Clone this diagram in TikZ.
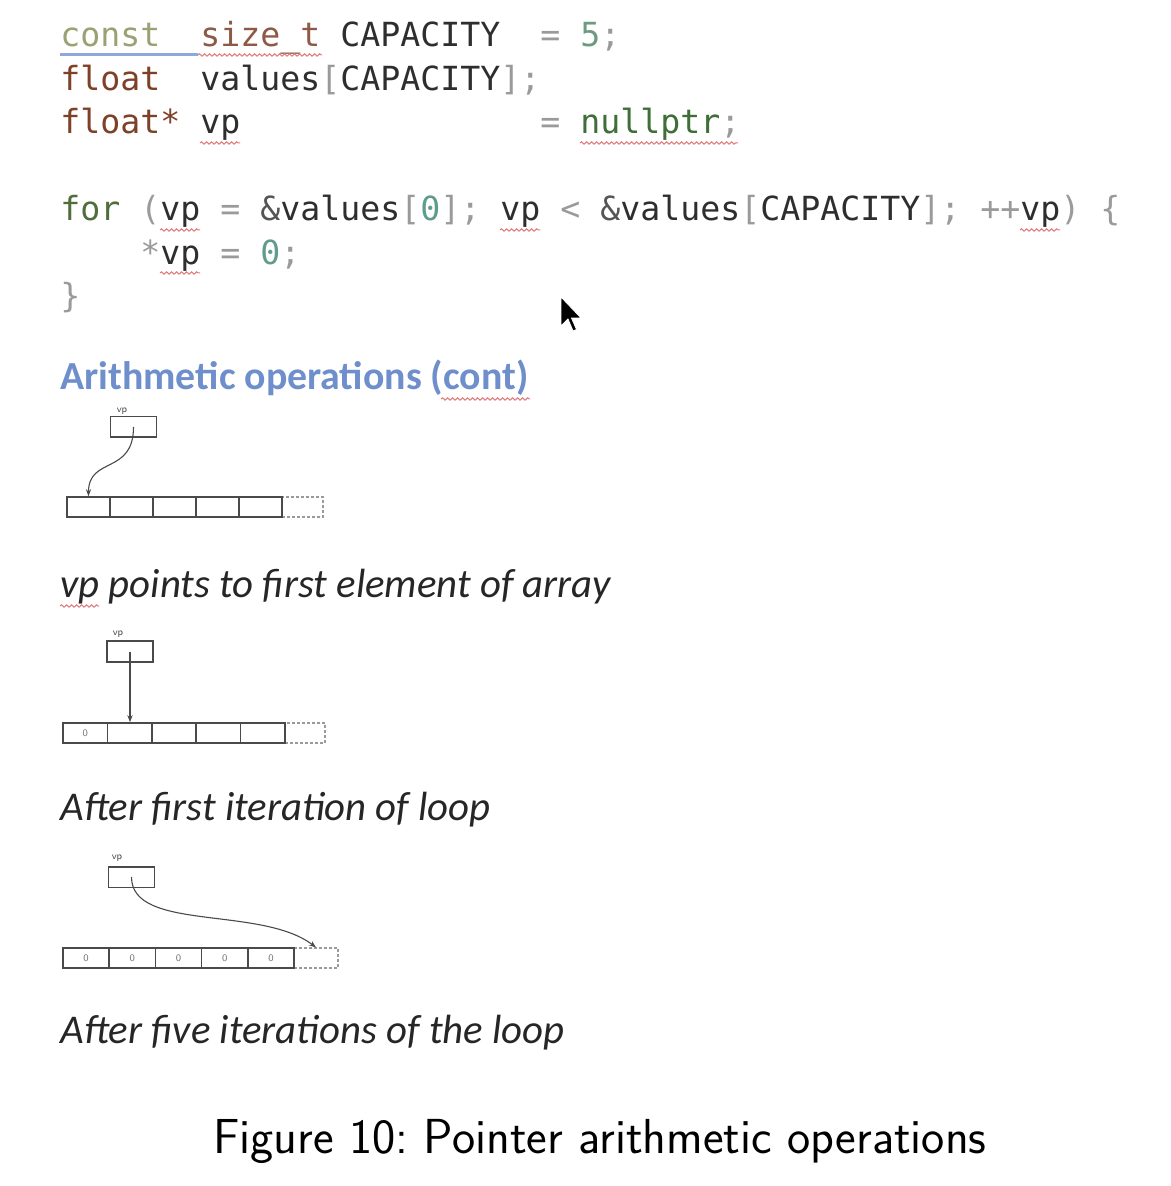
\documentclass[tikz,border=0pt]{standalone}
\usepackage{fontspec}
\usetikzlibrary{arrows.meta,decorations.pathmorphing}
\newfontfamily\codefont{DejaVu Sans Mono}
\newfontfamily\calfont{Carlito}

% syntax colours
\definecolor{kwconst}{HTML}{9AA274}
\definecolor{sizetc}{HTML}{8E5A48}
\definecolor{floatc}{HTML}{7E4128}
\definecolor{identc}{HTML}{2E2E2E}
\definecolor{ampc}{HTML}{555555}
\definecolor{punctc}{HTML}{9A9A9A}
\definecolor{numc}{HTML}{6E9A80}
\definecolor{zeroc}{HTML}{5F9C8C}
\definecolor{nullc}{HTML}{3F6E38}
\definecolor{forc}{HTML}{506E3C}
% page colours
\definecolor{wavered}{HTML}{E07A7A}
\definecolor{ulblue}{HTML}{8FA8DC}
\definecolor{headblue}{HTML}{6E8FCB}
\definecolor{capgray}{HTML}{262626}
\definecolor{linegray}{HTML}{4A4A4A}
\definecolor{dashgray}{HTML}{9A9A9A}
\definecolor{zerogray}{HTML}{777777}

\newcommand\tkConst[1]{\textcolor{kwconst}{#1}}
\newcommand\tkSize[1]{\textcolor{sizetc}{#1}}
\newcommand\tkFloat[1]{\textcolor{floatc}{#1}}
\newcommand\tkId[1]{\textcolor{identc}{#1}}
\newcommand\tkAmp[1]{\textcolor{ampc}{#1}}
\newcommand\tkPun[1]{\textcolor{punctc}{#1}}
\newcommand\tkNum[1]{\textcolor{numc}{#1}}
\newcommand\tkZero[1]{\textcolor{zeroc}{#1}}
\newcommand\tkNull[1]{\textcolor{nullc}{#1}}
\newcommand\tkFor[1]{\textcolor{forc}{#1}}

\begin{document}
\frenchspacing
\begin{tikzpicture}[x=0.5pt,y=-0.5pt,
  code/.style={anchor=base west, inner sep=0pt,
    font=\codefont\fontsize{16.61pt}{20pt}\selectfont},
  wavy/.style={draw=wavered, line width=0.5pt, decorate,
    decoration={snake, amplitude=0.6pt, segment length=2.5pt}},
  head/.style={anchor=base west, inner sep=0pt, text=headblue,
    font=\calfont\bfseries\fontsize{19.9pt}{24pt}\selectfont},
  capt/.style={anchor=base west, inner sep=0pt, text=capgray,
    font=\calfont\itshape\fontsize{20.4pt}{24pt}\selectfont},
  ptrbox/.style={draw=linegray, line width=0.8pt, minimum width=23pt,
    minimum height=10.3pt, inner sep=0pt},
  cell/.style={draw=linegray, line width=0.8pt, minimum height=10pt,
    inner sep=0pt, text=zerogray, font=\sffamily\fontsize{5pt}{6pt}\selectfont},
  endcell/.style={draw=dashgray, line width=0.6pt, dash pattern=on 1.5pt off 1pt,
    minimum height=10pt, inner sep=0pt},
  link/.style={draw=linegray, line width=0.55pt,
    -{Stealth[length=3.5pt,width=2.6pt]}},
  tag/.style={inner sep=0pt, text=linegray, font=\sffamily\fontsize{5pt}{6pt}\selectfont}
]
\fill[white] (0,0) rectangle (1170,1186);
\useasboundingbox (0,0) rectangle (1170,1186);

% ---- source code ----
\node[code] (l1) at (60,47) {\tkConst{const}~~\tkSize{size\_t}~\tkId{CAPACITY}~~\tkPun{=}~\tkNum{5}\tkPun{;}};
\node[code] (l2) at (60,90.5) {\tkFloat{float}~~\tkId{values}\tkPun{[}\tkId{CAPACITY}\tkPun{]}\tkPun{;}};
\node[code] (l3) at (60,134) {\tkFloat{float*}~\tkId{vp}~~~~~~~~~~~~~~~\tkPun{=}~\tkNull{nullptr}\tkPun{;}};
\node[code] (l5) at (60,221) {\tkFor{for}~\tkPun{(}\tkId{vp}~\tkPun{=}~\tkAmp{\&}\tkId{values}\tkPun{[}\tkZero{0}\tkPun{]}\tkPun{;}~\tkId{vp}~\tkPun{<}~\tkAmp{\&}\tkId{values}\tkPun{[}\tkId{CAPACITY}\tkPun{]}\tkPun{;}~\tkPun{++}\tkId{vp}\tkPun{)}~\tkPun{\{}};
\node[code] (l6) at (60,264.5) {~~~~\tkPun{*}\tkId{vp}~\tkPun{=}~\tkZero{0}\tkPun{;}};
\node[code] (l7) at (60,308) {\tkPun{\}}};

% editor underlines
\draw[ulblue, line width=1.5pt] (60,55) -- (198,55);
\draw[wavy] (198,55) -- (322,55);
\draw[wavy] (200,143) -- (240,143);
\draw[wavy] (580,143) -- (738,143);
\draw[wavy] (160,230) -- (200,230);
\draw[wavy] (500,230) -- (540,230);
\draw[wavy] (1020,230) -- (1060,230);
\draw[wavy] (160,273) -- (200,273);

% mouse pointer
\filldraw[black, draw=white, line width=0.4pt]
  (561,297) -- (561,326) -- (568,319) -- (573,331) -- (576.5,329.5)
  -- (571.5,318) -- (581,318) -- cycle;

% ---- heading ----
\node[head] (hd) at (60,390) {Arithmetic operations (cont)};
\draw[wavy] (441,399) -- (530,399);

% ---- state 1: vp points to first element ----
\node[endcell, minimum width=20.5pt] (a6) at (302.5,507) {};
\foreach \i in {1,...,5}
  \node[cell, minimum width=21.5pt] (a\i) at ({67+43*(\i-0.5)},507) {};
\node[ptrbox] (p1) at (133.5,427) {};
\node[tag] (t1) at (122,411) {vp};
\draw[link] (p1.center) .. controls +(0,48) and +(0,-40) .. (a1.north);
\node[capt] (c1) at (60,597) {vp points to first element of array};
\draw[wavy] (60,606) -- (99,606);

% ---- state 2: after first iteration ----
\node[endcell, minimum width=20pt] (b6) at (305,733) {};
\node[cell, minimum width=22.2pt] (b1) at ({63+44.4*0.5},733) {0};
\foreach \i in {2,...,5}
  \node[cell, minimum width=22.2pt] (b\i) at ({63+44.4*(\i-0.5)},733) {};
\node[ptrbox] (p2) at (130,651.5) {};
\node[tag] (t2) at (118,634) {vp};
\draw[link] (p2.center) -- (p2.center |- b2.north);
\node[capt] (c2) at (60,820) {After first iteration of loop};

% ---- state 3: after five iterations ----
\node[endcell, minimum width=22pt] (d6) at (316,958) {};
\foreach \i in {1,...,5}
  \node[cell, minimum width=23.1pt] (d\i) at ({63+46.2*(\i-0.5)},958) {0};
\node[ptrbox] (p3) at (131.5,877) {};
\node[tag] (t3) at (117,858) {vp};
\draw[link] (p3.center) .. controls +(0,55) and +(-55,-42) .. (d6.north);
\node[capt] (c3) at (60,1043) {After five iterations of the loop};

% ---- figure caption ----
\node[anchor=base, inner sep=0pt, text=black,
  font=\sffamily\fontsize{24.6pt}{30pt}\selectfont] (fig) at (600,1153)
  {Figure 10: Pointer arithmetic operations};
\end{tikzpicture}
\end{document}
